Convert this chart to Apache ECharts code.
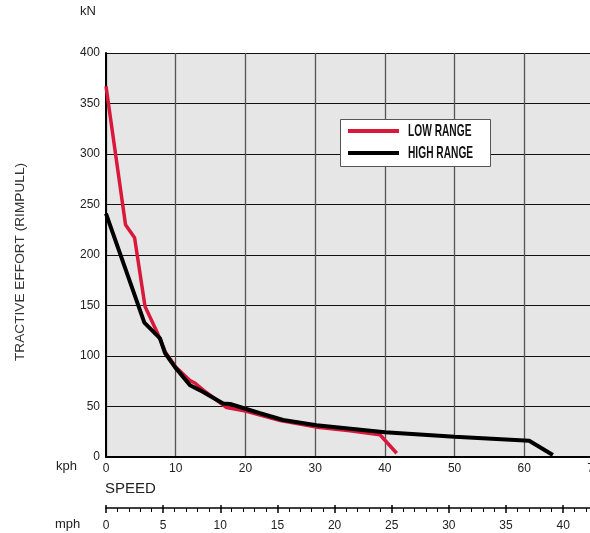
<!DOCTYPE html>
<html>
<head>
<meta charset="utf-8">
<script src="https://cdn.jsdelivr.net/npm/echarts@6/dist/echarts.min.js"></script>
<style>
html, body { margin: 0; padding: 0; background: #fff; }
#chart { width: 590px; height: 533px; }
</style>
</head>
<body>
<div id="chart"></div>
<script>
var myChart = echarts.init(document.getElementById('chart'));

// kph / kN
var lowSpeed = [0, 2.8, 4.1, 5.6, 7.3, 8.5, 10, 12, 12.8, 14, 17.3, 20, 25, 30, 35, 39.3, 41.7];
var lowForce = [367, 230, 217, 149, 124, 104, 89, 76, 73, 66, 49, 45.5, 36, 29.8, 26, 22, 3.7];
var highSpeed = [0, 5.5, 7.75, 8.46, 9.9, 12.05, 13.5, 16.8, 17.8, 22.1, 25.4, 30.2, 40, 50, 60.7, 64.1];
var highForce = [241, 133, 117.5, 103, 89, 71, 66, 53, 52.5, 43.3, 36.6, 31.5, 24.5, 20, 16, 2];
var seriesNames = ['LOW RANGE', 'HIGH RANGE'];
var seriesColors = ['#d9183b', '#000'];

var KPH_MAX = 70;
var MPH_MAX = 42.7; // lower scale as printed in the original
var FONT = 'Liberation Sans, Arial, sans-serif';
var labelFont = { color: '#222', fontSize: 12, fontFamily: FONT };

function pairs(xs, ys) {
    return xs.map(function (x, i) { return [x, ys[i]]; });
}

// hand drawn legend box (condensed lettering like the original)
var legendBox = [{
    type: 'rect', left: 340, top: 119, z: 10,
    shape: { width: 150, height: 47 },
    style: { fill: '#fff', stroke: '#555', lineWidth: 1 }
}];
seriesNames.forEach(function (name, i) {
    var y = 131 + i * 22;
    legendBox.push({
        type: 'line', z: 11,
        shape: { x1: 348, y1: y, x2: 399, y2: y },
        style: { stroke: seriesColors[i], lineWidth: 4 }
    });
    legendBox.push({
        type: 'text', z: 11, x: 408, y: y + 0.5, scaleX: 0.6,
        style: {
            text: name, fill: '#111', font: 'bold 17px ' + FONT,
            verticalAlign: 'middle', align: 'left'
        }
    });
});

var option = {
    backgroundColor: '#fff',
    animation: false,
    grid: {
        left: 106, top: 53, bottom: 76, right: -4,
        outerBoundsMode: 'none',
        show: true,
        backgroundColor: '#e6e6e6',
        borderWidth: 0
    },
    graphic: [
        { type: 'text', left: 80, top: 5, style: { text: 'kN', fontSize: 13, fill: '#222', fontFamily: FONT } },
        { type: 'text', left: 56, top: 460, style: { text: 'kph', fontSize: 13, fill: '#222', fontFamily: FONT } },
        { type: 'text', left: 105, top: 481, style: { text: 'SPEED', fontSize: 15, fill: '#222', fontFamily: FONT } },
        { type: 'text', left: 55, top: 518, style: { text: 'mph', fontSize: 13, fill: '#222', fontFamily: FONT } },
        {
            type: 'text', x: 20, y: 262, rotation: Math.PI / 2,
            style: {
                text: 'TRACTIVE EFFORT (RIMPULL)', fontSize: 13.7, fill: '#333', fontFamily: FONT,
                align: 'center', verticalAlign: 'middle'
            }
        }
    ].concat(legendBox),
    xAxis: [{
        type: 'value', min: 0, max: KPH_MAX, interval: 10,
        axisLine: { lineStyle: { color: '#000', width: 2 } },
        axisTick: { show: false },
        axisLabel: Object.assign({ margin: 6 }, labelFont),
        splitLine: { lineStyle: { color: '#555', width: 1.3 } }
    }, {
        type: 'value', min: 0, max: MPH_MAX, interval: 5,
        position: 'bottom', offset: 51,
        axisLine: { lineStyle: { color: '#000', width: 1.5 } },
        axisTick: { show: true, length: 5, lineStyle: { color: '#000', width: 1.5 } },
        minorTick: { show: true, splitNumber: 5, length: 4, lineStyle: { color: '#000', width: 1 } },
        axisLabel: Object.assign({ margin: 12, showMaxLabel: false }, labelFont),
        splitLine: { show: false }
    }, {
        type: 'value', min: 0, max: MPH_MAX, interval: 5,
        position: 'bottom', offset: 51,
        axisLine: { show: false },
        axisTick: { show: true, inside: true, length: 3, lineStyle: { color: '#000', width: 1.5 } },
        axisLabel: { show: false },
        splitLine: { show: false }
    }],
    yAxis: {
        type: 'value', min: 0, max: 400, interval: 50,
        axisLine: { show: true, lineStyle: { color: '#000', width: 2 } },
        axisTick: { show: false },
        axisLabel: Object.assign({ margin: 6 }, labelFont),
        splitLine: { lineStyle: { color: '#111', width: 1 } }
    },
    series: [{
        name: seriesNames[0],
        type: 'line',
        data: pairs(lowSpeed, lowForce),
        symbol: 'none',
        color: seriesColors[0],
        lineStyle: { width: 3.5, color: seriesColors[0] },
        z: 3
    }, {
        name: seriesNames[1],
        type: 'line',
        data: pairs(highSpeed, highForce),
        symbol: 'none',
        color: seriesColors[1],
        lineStyle: { width: 4, color: seriesColors[1] },
        z: 4
    }]
};
myChart.setOption(option);
</script>
</body>
</html>
